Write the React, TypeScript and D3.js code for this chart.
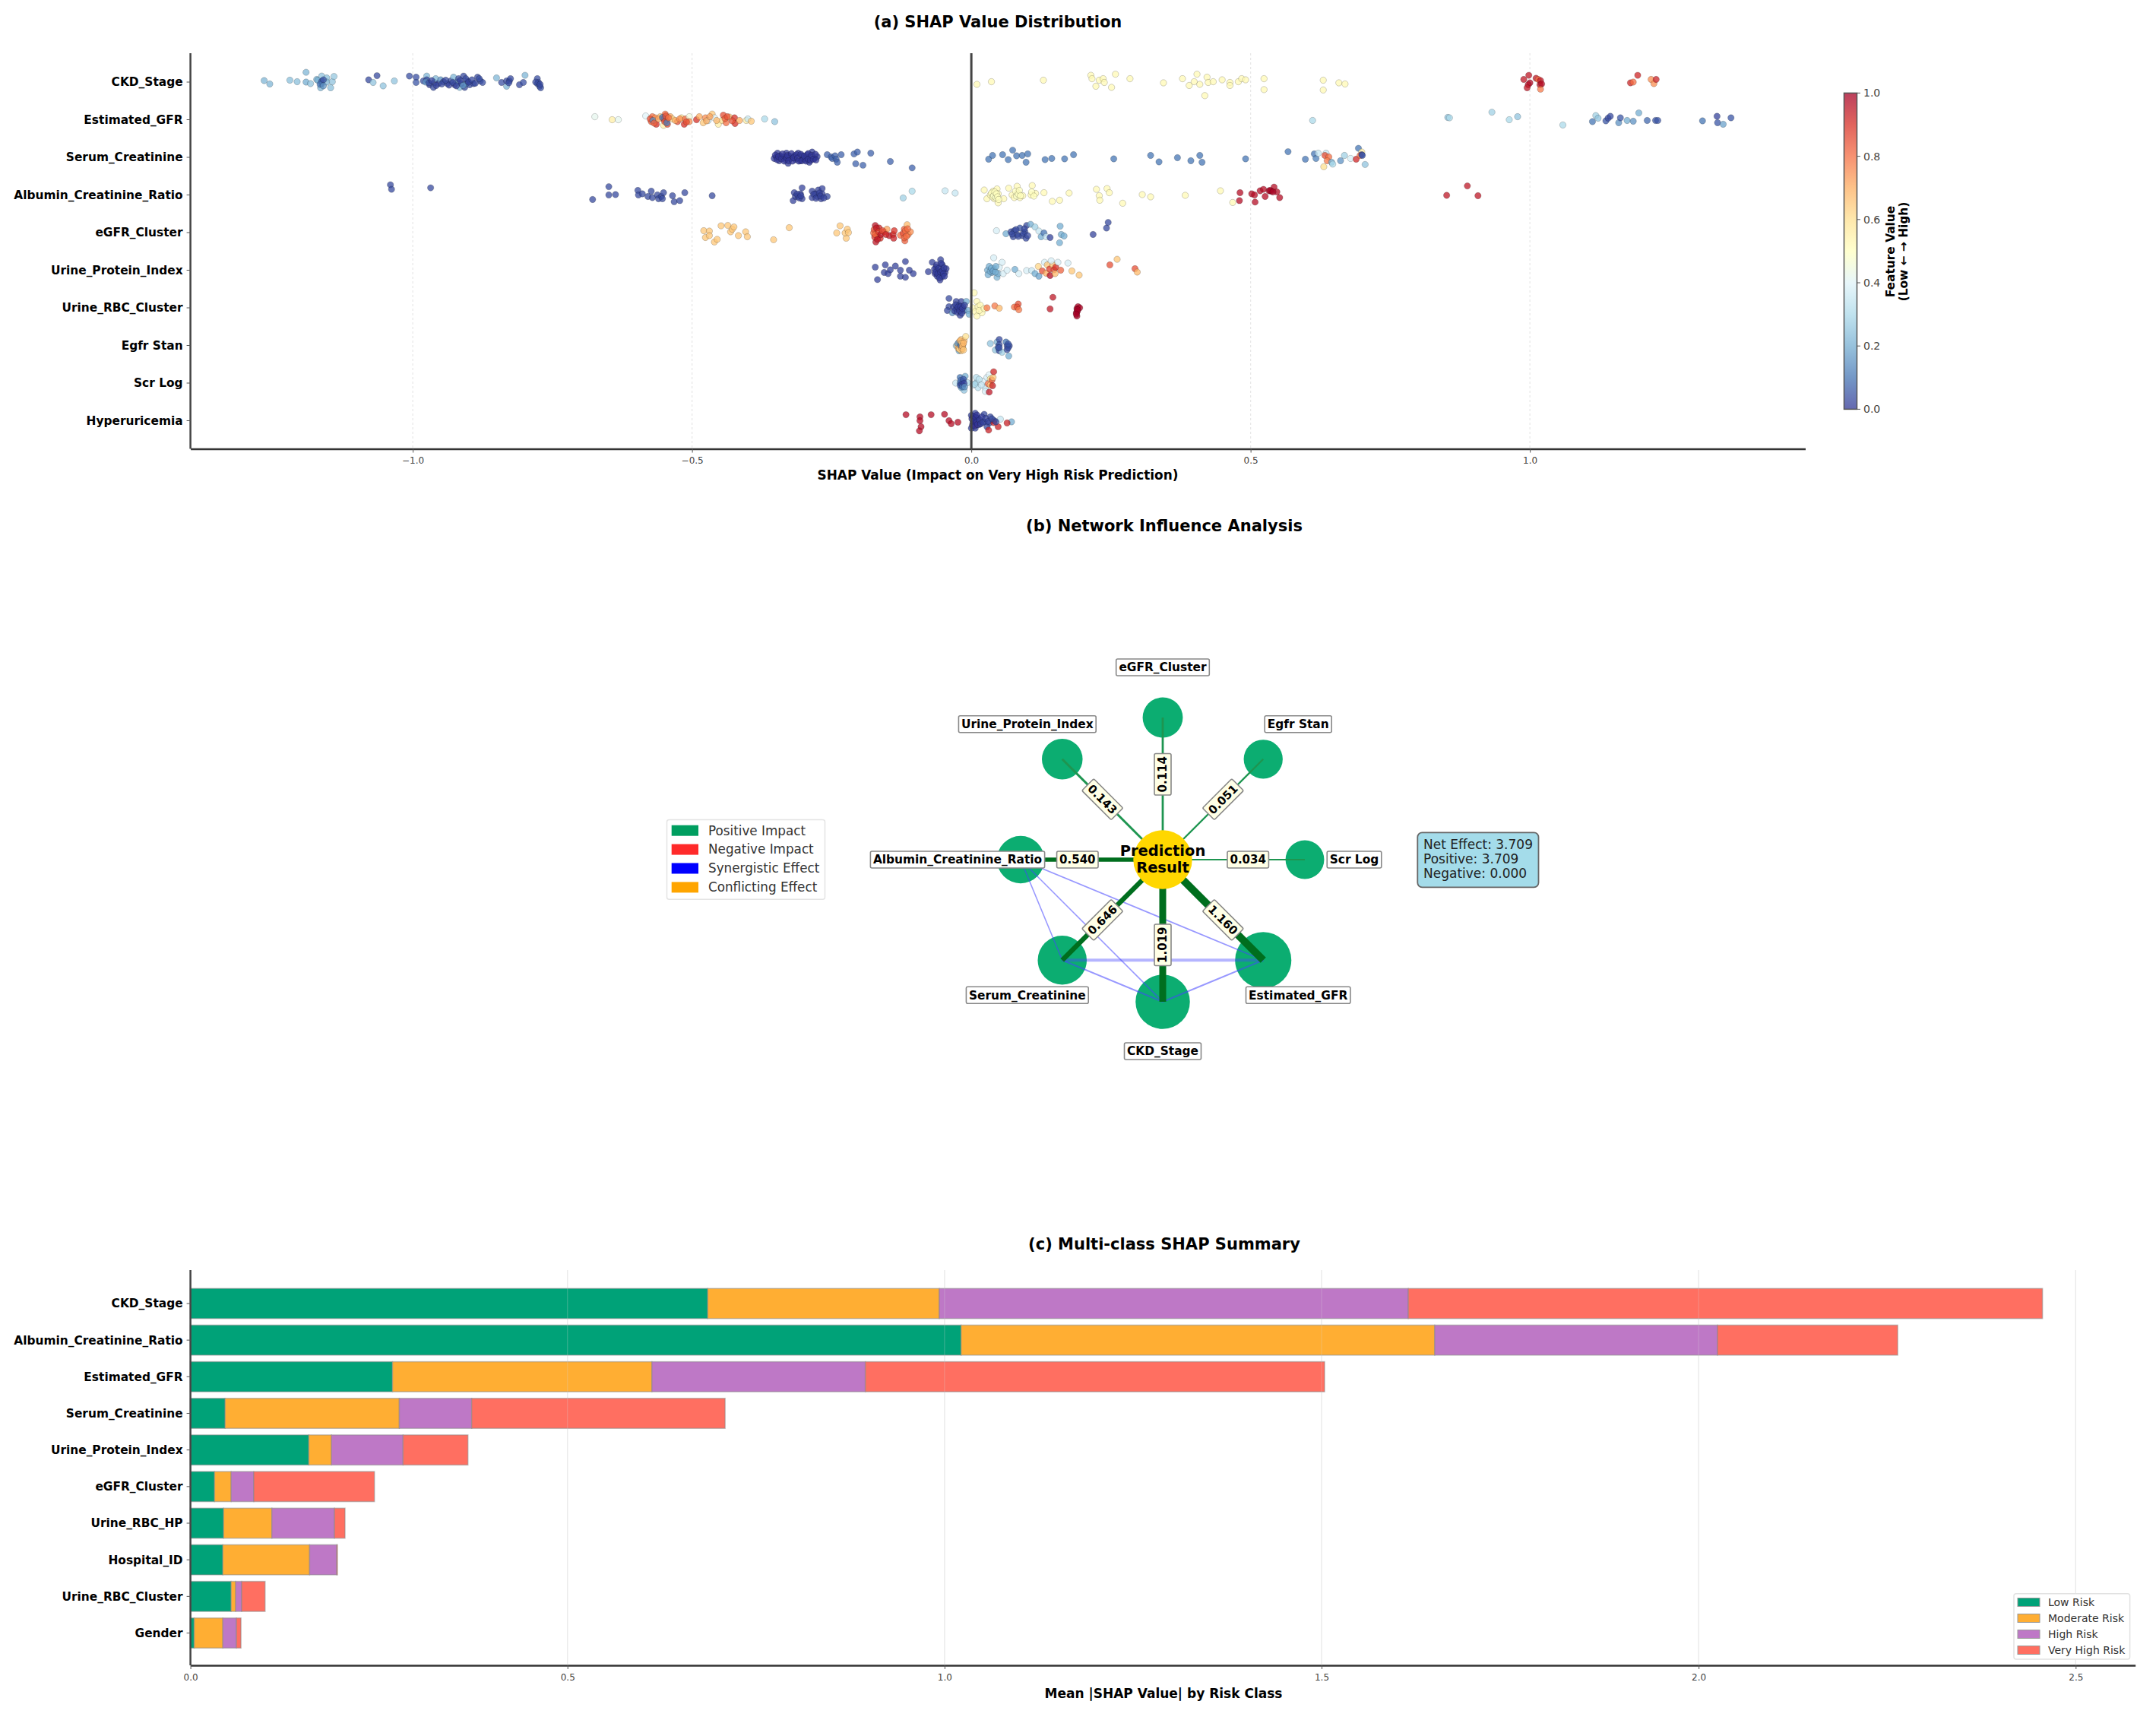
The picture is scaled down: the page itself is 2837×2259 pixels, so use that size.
import React, { useRef, useEffect } from "react";
import * as d3 from "d3";

const width = 2837;
const height = 2259;
const font = "'DejaVu Sans', sans-serif";

type Pt = [number, number, number]; // shap value, row jitter, feature value

// (a) beeswarm, one list per feature
const ckdStage: Pt[] = [
  [-1.266,-.04,.22],[-1.256,.05,.22],[-1.22,-.05,.24],[-1.207,-.01,.24],[-1.191,-.26,.22],[-1.191,0,.2],[-1.183,.04,.25],[-1.172,-.07,.22],[-1.17,-.05,.2],[-1.165,.15,.22],[-1.163,-.16,.25],[-1.163,.04,.08],[-1.163,-.02,.05],[-1.154,-.11,.24],[-1.154,0,.22],[-1.147,.15,.24],[-1.144,-.01,.25],[-1.141,-.15,.26],
  [-1.079,-.06,.03],[-1.064,-.17,.03],[-1.071,.01,.25],[-1.053,.1,.25],[-1.033,-.03,.25],[-1.006,-.16,.04],[-.994,-.13,.04],[-.994,.01,.05],
  [-.981,-.03,.04],[-.975,-.16,.22],[-.975,-.06,.03],[-.97,.07,.02],[-.977,0,.15],[-.963,.14,.03],[-.961,.01,.03],[-.959,-.09,.22],[-.954,.04,.02],[-.95,-.06,.15],[-.945,-.01,.02],[-.938,.04,.03],[-.932,-.03,.03],[-.927,-.13,.22],[-.925,.07,.02],[-.92,0,.15],[-.918,-.09,.03],[-.916,.14,.22],[-.913,.04,.02],[-.909,-.16,.03],[-.907,.14,.03],[-.904,.04,.15],[-.902,-.03,.03],[-.898,.07,.03],[-.891,.04,.03],[-.884,-.13,.03],[-.879,-.03,.03],[-.875,.01,.04],
  [-.85,-.11,.22],[-.841,.01,.04],[-.832,.11,.22],[-.832,-.03,.03],[-.827,-.03,.04],[-.825,-.09,.03],[-.809,.07,.03],[-.802,.01,.04],[-.799,-.18,.22],[-.777,-.09,.04],[-.777,.04,.05],[-.775,.01,.03],[-.773,.11,.03],[-.771,.15,.04],
  [.01,.06,.52],[.036,-.01,.52],[.129,-.05,.52],[.214,-.18,.52],[.216,-.09,.52],[.223,.11,.52],[.229,-.05,.52],[.236,-.09,.52],[.238,.01,.52],[.251,.14,.52],[.258,-.21,.52],[.284,-.09,.52],[.344,.02,.52],[.378,-.09,.52],[.39,.09,.52],[.399,-.01,.52],[.404,-.21,.52],[.409,.06,.52],[.418,.36,.52],[.422,-.13,.52],[.424,.01,.52],[.433,-.01,.52],[.449,-.06,.52],[.463,.01,.52],[.463,.09,.52],[.478,-.01,.52],[.484,-.09,.52],[.491,-.06,.52],[.524,-.09,.52],[.524,.2,.52],[.63,-.05,.52],[.63,.21,.52],[.658,.02,.52],[.669,.05,.52],
  [.989,-.07,.95],[.998,-.18,.95],[1.011,-.1,.95],[1.015,-.07,.8],[1.019,-.04,.95],[1.018,.07,.96],[1.021,.05,.97],[1,.02,.98],[.997,.07,.97],[.995,.15,.95],[1.019,.19,.78],
  [1.18,.02,.92],[1.185,0,.8],[1.193,-.18,.92],[1.217,-.07,.75],[1.222,.04,.75],[1.226,-.07,.93],
];
const ckdStageDense: Pt[] = [
  [-1.166,.06,.1],[-1.16,-.06,.05],[-1.16,.1,.15],[-.971,.02,.03],[-.966,-.04,.02],[-.958,.09,.02],[-.948,.05,.03],[-.941,-.05,.03],[-.935,.08,.02],[-.928,.01,.03],[-.922,.1,.02],[-.915,-.04,.02],[-.91,.09,.15],[-.905,-.09,.03],[-.9,0,.02],[-.894,-.06,.03],[-.888,.03,.03],[-.881,-.09,.04],[-.78,0,.03],[-.772,.06,.03],[-.828,.02,.03],
];
const estimatedGfr: Pt[] = [
  [-.674,-.08,.42],[-.643,0,.55],[-.632,0,.42],[-.583,-.1,.4],
  [-.571,-.08,.8],[-.573,.05,.82],[-.564,.12,.9],[-.566,-.05,.75],[-.557,-.08,.65],[-.551,.15,.55],[-.548,-.15,.8],[-.546,.02,.85],[-.544,.12,.85],[-.551,-.02,.85],[-.539,-.08,.7],[-.535,-.02,.62],[-.526,.05,.85],[-.519,-.05,.6],[-.514,.12,.9],[-.512,-.02,.8],[-.505,-.08,.45],[-.505,.05,.75],
  [-.492,0,.9],[-.487,-.08,.7],[-.48,.08,.65],[-.476,-.05,.75],[-.471,.02,.35],[-.464,-.15,.65],[-.46,-.05,.4],[-.453,.12,.55],[-.446,.02,.6],[-.444,-.12,.85],[-.439,.08,.8],[-.433,-.07,.65],[-.424,-.05,.9],[-.423,.1,.9],[-.415,.02,.7],[-.403,.02,.55],[-.4,-.02,.35],[-.394,.04,.65],[-.37,-.02,.3],[-.352,.05,.25],
  [.611,.02,.3],[.853,-.06,.25],[.856,-.05,.3],[.932,-.2,.28],[.963,0,.3],[.978,-.08,.25],[1.059,.14,.3],[1.112,.05,.1],[1.118,-.11,.28],[1.122,-.04,.25],[1.136,.03,.05],[1.14,-.04,.03],[1.144,-.09,.03],[1.159,.08,.15],[1.162,-.05,.05],[1.174,.02,.2],[1.185,.04,.15],[1.195,-.18,.2],[1.21,.02,.08],[1.225,.02,.05],[1.229,.02,.05],[1.309,.03,.1],[1.335,-.09,.02],[1.336,.08,.05],[1.346,.12,.18],[1.36,-.05,.05],
];
const estimatedGfrDense: Pt[] = [
  [-.575,-.02,.85],[-.57,.02,.15],[-.568,.09,.82],[-.56,-.02,.72],[-.553,-.06,.1],[-.549,.05,.85],[-.547,-.1,.85],[-.545,.08,.12],[-.542,-.05,.8],[-.53,.02,.7],[-.522,-.02,.75],[-.51,.06,.85],[-.474,.03,.7],[-.468,-.08,.72],[-.456,.02,.68],[-.441,-.03,.82],[-.437,-.08,.85],[-.428,.03,.85],
];
const serumCreatinine: Pt[] = [
  [-.353,.03,.01],[-.349,-.01,.01],[-.347,-.11,.01],[-.344,.09,.01],[-.342,-.04,.01],[-.337,-.01,.01],[-.333,.06,.01],[-.331,-.11,.01],[-.328,.16,.01],[-.326,-.04,.01],[-.324,.03,.01],[-.317,-.04,.01],[-.315,.06,.01],[-.31,-.11,.01],[-.306,.09,.01],[-.303,-.04,.01],[-.301,.03,.01],[-.297,.06,.01],[-.294,-.07,.01],[-.29,.13,.01],[-.29,-.01,.01],[-.285,-.14,.01],[-.281,.03,.01],[-.276,-.02,.01],
  [-.258,-.07,.07],[-.251,-.01,.07],[-.249,.03,.07],[-.244,-.04,.07],[-.242,.05,.07],[-.24,.13,.07],[-.233,-.07,.07],[-.21,-.09,.07],[-.204,-.14,.07],[-.18,-.11,.07],[-.207,.17,.07],[-.194,.21,.07],[-.145,.11,.07],[-.106,.28,.07],
  [.031,.05,.1],[.038,-.05,.1],[.056,-.07,.1],[.066,.06,.1],[.074,-.19,.1],[.081,-.04,.1],[.091,-.05,.1],[.098,.13,.1],[.101,-.09,.1],[.132,.06,.1],[.144,.03,.1],[.167,.04,.1],[.183,-.07,.1],[.255,.04,.1],[.321,-.05,.1],[.336,.12,.1],[.369,.01,.1],[.393,.09,.1],[.409,-.05,.1],[.413,.13,.1],[.491,.04,.1],
  [.567,-.15,.1],[.598,.05,.1],[.614,-.09,.1],[.617,.03,.12],[.621,-.11,.35],[.635,-.11,.35],[.633,-.05,.85],[.64,-.01,.8],[.637,.09,.78],[.631,.25,.6],[.645,.13,.2],[.647,.18,.3],[.661,.09,.15],[.668,-.05,.28],[.679,.03,.38],[.689,.05,.92],[.693,-.24,.1],[.699,-.14,.55],[.696,-.05,.8],[.699,-.07,.02],[.7,-.05,.05],[.705,.19,.25],
];
const serumCreatinineDense: Pt[] = [
  [-.351,-.06,0],[-.348,.06,0],[-.345,-.02,0],[-.34,.04,0],[-.338,-.09,0],[-.335,.1,0],[-.331,.01,0],[-.329,-.05,0],[-.327,.09,0],[-.322,-.1,0],[-.32,.1,0],[-.318,.01,0],[-.313,-.07,0],[-.311,.02,0],[-.309,.1,0],[-.305,-.08,0],[-.303,.09,0],[-.299,-.03,0],[-.296,.1,0],[-.292,-.1,0],[-.292,.05,0],[-.288,.08,0],[-.286,-.05,0],[-.283,.05,0],[-.279,-.08,0],[-.278,.07,0],
];
const albuminCreatinineRatio: Pt[] = [
  [-1.04,-.27,.03],[-1.038,-.15,.03],[-.968,-.19,.03],
  [-.678,.12,.03],[-.649,-.22,.03],[-.649,0,.03],[-.637,-.01,.03],[-.597,-.12,.03],[-.596,0,.03],[-.589,-.03,.03],[-.579,.04,.03],[-.573,-.1,.03],[-.571,.07,.03],[-.562,0,.03],[-.56,.1,.03],[-.555,.04,.03],[-.553,.1,.03],[-.551,-.06,.03],[-.535,.02,.03],[-.532,.18,.03],[-.522,.15,.03],[-.513,-.06,.03],[-.464,.02,.03],
  [-.319,.15,.02],[-.317,-.06,.02],[-.315,.04,.02],[-.31,.04,.02],[-.306,-.03,.02],[-.303,-.19,.02],[-.303,.1,.02],[-.285,-.1,.02],[-.285,.07,.02],[-.279,-.03,.02],[-.276,.04,.02],[-.274,-.13,.02],[-.269,.1,.02],[-.267,-.17,.02],[-.267,-.03,.02],[-.258,.04,.03],
  [-.122,.08,.28],[-.106,-.1,.3],[-.047,-.11,.35],[-.029,-.05,.35],
  [.023,-.13,.52],[.028,.1,.52],[.034,0,.52],[.039,-.1,.52],[.041,.1,.52],[.043,0,.52],[.046,-.16,.52],[.048,.21,.52],[.048,-.03,.52],[.058,.1,.52],[.067,-.18,.52],[.073,0,.52],[.077,.07,.52],[.082,-.23,.52],[.083,-.06,.52],[.087,.07,.52],[.092,.02,.52],[.107,0,.52],[.109,-.25,.52],[.115,-.04,.52],[.13,-.06,.52],[.145,.17,.52],[.158,.14,.52],[.175,-.05,.52],[.224,-.15,.52],[.243,-.17,.52],[.229,.02,.52],[.247,-.06,.52],[.23,.14,.52],[.271,.22,.52],[.306,-.01,.52],[.321,.05,.52],[.383,.01,.52],[.446,-.11,.52],[.468,.2,.52],
  [.481,-.06,.97],[.48,.15,.97],[.502,-.03,.97],[.507,0,.97],[.508,.19,.97],[.517,-.11,.97],[.523,-.15,.97],[.526,.04,.97],[.533,-.11,.98],[.537,-.1,.99],[.542,-.21,.97],[.547,-.08,.97],[.552,.07,.97],
  [.851,.01,.95],[.888,-.24,.95],[.907,.02,.95],
];
const albuminCreatinineRatioDense: Pt[] = [
  [-.312,-.02,.02],[-.308,.08,.02],[-.305,.02,.02],[-.282,-.02,.02],[-.278,.09,.02],[-.272,-.05,.02],[-.27,.03,.02],[-.264,.08,.02],
  [.036,-.05,.5],[.038,.05,.5],[.04,.02,.48],[.042,-.08,.5],[.044,.07,.48],[.045,-.03,.5],[.047,.05,.5],[.049,.12,.5],[.079,-.1,.5],[.081,.03,.48],[.084,-.02,.5],[.086,-.12,.5],[.088,.02,.5],[.108,-.08,.5],[.112,.03,.5],[.535,-.12,.99],[.54,-.08,.99],
];
const egfrCluster: Pt[] = [
  [-.479,-.05,.65],[-.476,.13,.65],[-.469,-.04,.65],[-.469,.08,.65],[-.46,.25,.65],[-.455,.18,.65],[-.448,-.18,.65],[-.436,-.19,.65],[-.431,-.02,.65],[-.428,-.09,.65],[-.425,-.15,.65],[-.417,.08,.65],[-.404,-.02,.65],[-.401,.11,.65],[-.354,.19,.65],[-.326,-.13,.65],
  [-.241,.01,.65],[-.235,-.18,.65],[-.224,.15,.65],[-.226,.01,.65],[-.222,-.09,.65],[-.22,0,.65],
  [-.175,.01,.8],[-.172,-.19,.95],[-.171,.25,.95],[-.169,.08,.85],[-.165,-.12,.92],[-.163,.15,.9],[-.156,-.02,.88],[-.151,-.09,.72],[-.147,.08,.95],[-.14,.05,.92],[-.139,.15,.93],[-.138,-.05,.9],[-.127,.07,.8],[-.12,-.09,.82],[-.119,.22,.82],[-.115,-.21,.68],[-.113,.05,.78],[-.109,-.02,.75],
  [.045,-.05,.38],[.062,.03,.2],[.071,-.02,.03],[.075,.11,.03],[.077,-.05,.03],[.082,.05,.03],[.087,-.12,.05],[.091,.08,.03],[.096,-.02,.03],[.098,.15,.03],[.099,-.19,.03],[.106,-.22,.2],[.114,-.15,.28],[.121,-.04,.35],[.125,.11,.2],[.13,.01,.1],[.134,.11,.35],[.141,.13,.02],[.158,.27,.2],[.159,-.17,.2],[.161,.05,.2],[.166,.09,.2],[.218,.05,.02],[.242,-.12,.03],[.245,-.27,.03],
];
const egfrClusterDense: Pt[] = [
  [-.174,-.08,.85],[-.173,.12,.9],[-.172,.05,.8],[-.17,-.12,.95],[-.168,.18,.95],[-.166,-.02,.88],[-.162,.05,.95],[-.159,-.05,.85],[-.153,.05,.92],[-.122,.02,.85],[-.12,.14,.82],[-.118,-.05,.8],[-.116,.1,.8],[-.114,-.1,.8],
  [.073,.04,.03],[.08,-.08,.03],[.084,.1,.03],[.093,.02,.03],[.095,-.1,.03],[.101,.08,.03],
];
const urineProteinIndex: Pt[] = [
  [-.172,-.08,.02],[-.168,.25,.02],[-.156,.06,.02],[-.154,-.14,.02],[-.149,.09,.02],[-.145,-.01,.02],[-.136,-.11,.02],[-.127,0,.02],[-.127,.16,.02],[-.118,-.23,.02],[-.118,.19,.02],[-.111,0,.02],[-.104,.09,.02],
  [-.077,.04,.02],[-.07,-.21,.02],[-.065,.09,.01],[-.063,-.08,.01],[-.061,.16,.01],[-.059,.02,.01],[-.056,.26,.01],[-.055,-.28,.02],[-.052,-.14,.01],[-.052,.16,.01],[-.047,.06,.01],[-.045,-.04,.01],
  [.029,0,.2],[.03,.12,.2],[.032,-.1,.2],[.037,.06,.18],[.041,-.04,.2],[.046,.19,.22],[.048,.09,.2],[.04,-.33,.38],[.05,-.08,.38],[.055,-.21,.38],[.057,.09,.38],[.064,0,.38],
  [.078,-.02,.2],[.085,.09,.38],[.099,.01,.38],[.108,.01,.35],[.114,.09,.2],[.121,.16,.18],[.12,-.1,.62],[.127,.02,.85],[.131,-.21,.38],[.134,.08,.7],[.136,-.14,.65],[.14,-.03,.88],[.141,.14,.97],[.146,-.14,.65],[.148,-.01,.85],[.15,.09,.68],[.151,-.08,.9],[.143,-.25,.38],[.155,-.21,.38],[.16,0,.82],[.173,-.19,.38],[.18,.02,.65],[.193,.13,.65],[.248,-.14,.85],[.261,-.29,.65],[.293,-.04,.85],[.297,.05,.68],
];
const urineProteinIndexDense: Pt[] = [
  [-.066,-.03,.01],[-.064,.05,.01],[-.062,-.14,.01],[-.06,.1,.01],[-.058,-.05,.01],[-.057,.2,.01],[-.055,.05,.01],[-.054,-.18,.01],[-.052,.02,.01],[-.05,.1,.01],[-.049,-.06,.01],[-.048,.16,.01],
  [.034,.03,.2],[.036,-.05,.2],[.039,.02,.18],[.043,.05,.2],[.044,-.1,.2],
];
const urineRbcCluster: Pt[] = [
  [-.04,-.25,.03],[-.04,-.03,.03],[-.043,.07,.03],[-.034,.13,.15],[-.027,-.17,.02],[-.027,.03,.02],[-.022,-.07,.02],[-.02,.2,.02],[-.018,-.17,.02],[-.015,-.03,.02],[-.013,.07,.02],[-.009,-.17,.2],[-.006,.07,.2],[-.004,.17,.2],
  [.005,-.4,.52],[.003,0,.52],[.01,-.17,.52],[.007,.1,.52],[.012,-.03,.52],[.01,.22,.52],[.016,-.07,.52],[.019,.13,.52],[.014,.07,.52],[.023,.02,.52],
  [.028,0,.78],[.042,-.05,.78],[.05,.01,.68],[.077,-.02,.8],[.084,-.1,.85],[.082,-.02,.85],[.085,.05,.78],[.146,-.28,.95],[.141,.03,.95],[.189,.02,.99],[.191,-.03,.99],[.194,0,.99],[.188,.13,.99],[.189,.22,.99],[.19,.09,.99],
];
const urineRbcClusterDense: Pt[] = [
  [-.032,-.02,.02],[-.03,.08,.02],[-.028,-.08,.02],[-.025,.12,.02],[-.024,-.02,.01],[-.021,.08,.01],[-.019,-.03,.01],[-.017,.14,.02],[-.016,.02,.01],[-.012,-.07,.02],[.19,.05,1],[.188,.17,1],
];
const egfrStan: Pt[] = [
  [-.027,.01,.25],[-.025,0,.65],[-.022,-.09,.65],[-.022,.14,.2],[-.02,.04,.7],[-.02,-.06,.1],[-.018,.14,.65],[-.018,-.16,.65],[-.015,-.02,.7],[-.015,.08,.62],[-.013,-.12,.68],[-.01,-.24,.6],
  [.034,-.05,.25],[.043,.12,.25],[.046,-.09,.22],[.05,-.16,.03],[.05,-.02,.03],[.05,.14,.03],[.055,.18,.28],[.062,-.09,.1],[.064,.01,.03],[.068,.01,.03],[.064,.11,.03],[.067,.28,.2],
];
const egfrStanDense: Pt[] = [
  [-.024,-.05,.15],[-.023,.08,.7],[-.021,.1,.62],[-.02,-.12,.68],[-.019,.01,.1],[-.017,.08,.7],[-.017,-.06,.65],[-.016,.02,.68],[-.014,.12,.65],[-.014,-.06,.68],
  [.048,.05,.05],[.05,.06,.05],[.066,.06,.04],[.066,-.04,.05],
];
const scrLog: Pt[] = [
  [-.028,0,.35],[-.02,-.15,.1],[-.02,0,.1],[-.018,.12,.2],[-.015,-.05,.02],[-.015,.05,.1],[-.013,.19,.25],[-.011,-.18,.2],
  [-.007,-.01,.3],[.003,.05,.35],[.009,-.01,.28],[.009,-.15,.32],[.012,.12,.32],[.021,-.05,.38],[.025,.12,.35],[.025,.22,.38],[.028,-.15,.38],[.032,-.22,.4],
  [.03,.02,.8],[.032,.24,.95],[.034,.05,.65],[.034,-.11,.6],[.037,-.08,.85],[.038,.07,.93],[.039,-.15,.65],[.04,-.3,.92],
];
const scrLogDense: Pt[] = [
  [-.02,.06,.05],[-.019,-.07,.08],[-.017,.03,.02],[-.016,.1,.1],[-.014,-.1,.05],[-.013,.01,.02],[-.012,.1,.15],[.006,.03,.3],[.014,-.1,.33],[.018,.05,.35],
];
const hyperuricemia: Pt[] = [
  [-.117,-.16,.97],[-.092,-.1,.97],[-.092,0,.97],[-.09,.16,.97],[-.093,.27,.97],[-.072,-.16,.97],[-.048,-.17,.97],[-.04,0,.97],[-.036,.08,.97],[-.024,.04,.97],
  [.052,-.04,.35],[.072,.03,.2],[.0,-.14,.02],[.003,.06,.01],[.005,-.04,.01],[.007,-.2,.02],[.007,.2,.02],[.012,-.07,.01],[.014,.1,.01],[.0,.2,.02],[.023,-.17,.03],[.023,.03,.03],[.034,-.1,.03],[.032,.06,.03],[.041,0,.03],[.028,.16,.03],
  [.031,.25,.93],[.048,.16,.93],[.007,.1,.93],[.04,.05,.93],[.064,.06,.93],
];
const hyperuricemiaDense: Pt[] = [
  [.001,-.05,0],[.002,.12,0],[.003,-.12,0],[.004,.02,0],[.006,.14,0],[.008,-.08,0],[.009,.04,0],[.01,-.15,0],[.011,.1,0],[.015,-.02,.01],[.017,.08,.01],[.019,-.1,.01],[.021,.04,.02],[.026,-.06,.02],[.03,.02,.02],[.037,-.05,.03],[.044,.03,.03],
];

const swarmFeatures = ["CKD_Stage", "Estimated_GFR", "Serum_Creatinine", "Albumin_Creatinine_Ratio", "eGFR_Cluster", "Urine_Protein_Index", "Urine_RBC_Cluster", "Egfr Stan", "Scr Log", "Hyperuricemia"];
const swarmSeries = [
  [...ckdStage, ...ckdStageDense], [...estimatedGfr, ...estimatedGfrDense], [...serumCreatinine, ...serumCreatinineDense],
  [...albuminCreatinineRatio, ...albuminCreatinineRatioDense], [...egfrCluster, ...egfrClusterDense], [...urineProteinIndex, ...urineProteinIndexDense],
  [...urineRbcCluster, ...urineRbcClusterDense], [...egfrStan, ...egfrStanDense], [...scrLog, ...scrLogDense], [...hyperuricemia, ...hyperuricemiaDense],
];
const swarmTicks = [-1, -0.5, 0, 0.5, 1];
const rdYlBu = ["#313695", "#4575b4", "#74add1", "#abd9e9", "#e0f3f8", "#ffffbf", "#fee090", "#fdae61", "#f46d43", "#d73027", "#a50026"];

// (b) network, clockwise from the top
const netFeatures = ["eGFR_Cluster", "Egfr Stan", "Scr Log", "Estimated_GFR", "CKD_Stage", "Serum_Creatinine", "Albumin_Creatinine_Ratio", "Urine_Protein_Index"];
const netImpact = [0.114, 0.051, 0.034, 1.16, 1.019, 0.646, 0.54, 0.143];
const netLabelDist = [253, 252, 252, 252, 252, 252, 270, 252];
const netLabelAngle = [-90, -45, 0, 45, -90, -45, 0, 45];
const synergyPairs: [number, number, number][] = [[6, 5, 1.6], [6, 4, 1.6], [6, 3, 1.8], [5, 3, 4], [5, 4, 2], [3, 4, 2]];
const netLegend = ["Positive Impact", "Negative Impact", "Synergistic Effect", "Conflicting Effect"];
const netLegendColors = ["#009E60", "#FF2A2A", "#0000FF", "#FFA500"];
const netSummary = ["Net Effect: 3.709", "Positive: 3.709", "Negative: 0.000"];

// (c) stacked bars
const barFeatures = ["CKD_Stage", "Albumin_Creatinine_Ratio", "Estimated_GFR", "Serum_Creatinine", "Urine_Protein_Index", "eGFR_Cluster", "Urine_RBC_HP", "Hospital_ID", "Urine_RBC_Cluster", "Gender"];
const riskClasses = ["Low Risk", "Moderate Risk", "High Risk", "Very High Risk"];
const riskColors = ["#00A278", "#FFAE33", "#BE78C6", "#FF6F61"];
const lowRisk = [0.686, 1.022, 0.268, 0.046, 0.157, 0.032, 0.044, 0.043, 0.054, 0.005];
const moderateRisk = [0.307, 0.628, 0.344, 0.231, 0.03, 0.022, 0.064, 0.115, 0.006, 0.038];
const highRisk = [0.622, 0.375, 0.283, 0.096, 0.095, 0.03, 0.083, 0.036, 0.008, 0.018];
const veryHighRisk = [0.841, 0.239, 0.609, 0.336, 0.086, 0.16, 0.014, 0.001, 0.031, 0.006];
const barTicks = [0, 0.5, 1, 1.5, 2, 2.5];

export default function App() {
  const svgRef = useRef<SVGSVGElement>(null);

  useEffect(() => {
    if (!svgRef.current) return;
    const svg = d3.select(svgRef.current);
    svg.selectAll("*").remove();
    svg.style("font-family", font);

    const label = (g: any, x: number, y: number, s: string, size: number, opts: any = {}) =>
      g.append("text").attr("x", x).attr("y", y).attr("dy", "0.35em")
        .attr("text-anchor", opts.anchor ?? "middle").attr("font-size", size)
        .attr("font-weight", opts.bold ? 700 : 400).attr("fill", opts.fill ?? "#000")
        .attr("transform", opts.rotate ? `rotate(${opts.rotate},${x},${y})` : null).text(s);

    const drawAxes = (x: any, top: number, bottom: number, ticks: number[], fmt: (d: number) => string, dash: string | null) => {
      const g = svg.append("g");
      g.append("g").selectAll("line").data(ticks).join("line")
        .attr("x1", d => x(d)).attr("x2", d => x(d)).attr("y1", top).attr("y2", bottom)
        .attr("stroke", "#ddd").attr("stroke-width", 1.2).attr("stroke-opacity", dash ? 0.7 : 0.5)
        .attr("stroke-dasharray", dash);
      const axis = g.append("g").attr("transform", `translate(0,${bottom})`)
        .call(d3.axisBottom(x).tickValues(ticks).tickFormat(fmt as any).tickSize(5).tickSizeOuter(0).tickPadding(6));
      axis.select(".domain").attr("stroke", "#333").attr("stroke-width", 2.5);
      axis.selectAll(".tick line").attr("stroke", "#555");
      axis.selectAll("text").attr("font-size", 12).attr("fill", "#444").attr("font-family", font);
      return g;
    };

    const drawYAxis = (y: any, left: number, top: number, bottom: number, names: string[], rows: number[]) => {
      const g = svg.append("g");
      g.append("line").attr("x1", left).attr("x2", left).attr("y1", top).attr("y2", bottom).attr("stroke", "#444").attr("stroke-width", 2.5);
      names.forEach((n, i) => {
        g.append("line").attr("x1", left - 5).attr("x2", left).attr("y1", y(rows[i])).attr("y2", y(rows[i])).attr("stroke", "#555");
        label(g, left - 10, y(rows[i]), n, 15.4, { anchor: "end", bold: true });
      });
    };

    // ---- (a) SHAP Value Distribution ----
    const xA = d3.scaleLinear().domain([-1.398, 1.493]).range([250.6, 2375.5]);
    const yA = d3.scaleLinear().domain([0, 9]).range([108, 553.5]);
    const colorStops = d3.range(11).map(i => i / 10);
    const color = d3.scaleLinear<string>().domain(colorStops).range(rdYlBu);

    drawAxes(xA, 70, 590.5, swarmTicks, d => d3.format(".1f")(d).replace("-", "\u2212"), "3,3");
    swarmSeries.forEach((pts, i) => {
      svg.append("g").selectAll("circle").data(pts).join("circle")
        .attr("cx", d => xA(d[0])).attr("cy", d => yA(i + d[1])).attr("r", 4.2)
        .attr("fill", d => color(d[2])).attr("fill-opacity", 0.75)
        .attr("stroke", "#000").attr("stroke-opacity", 0.3).attr("stroke-width", 0.6);
    });
    svg.append("line").attr("x1", xA(0)).attr("x2", xA(0)).attr("y1", 70).attr("y2", 590.5).attr("stroke", "#444").attr("stroke-width", 3);
    drawYAxis(yA, 250.6, 70, 590.5, swarmFeatures, d3.range(10));
    label(svg, 1313, 28.6, "(a) SHAP Value Distribution", 21, { bold: true });
    label(svg, 1313, 625.4, "SHAP Value (Impact on Very High Risk Prediction)", 16.9, { bold: true });

    // colorbar
    const defs = svg.append("defs");
    const grad = defs.append("linearGradient").attr("id", "cbar").attr("x1", 0).attr("x2", 0).attr("y1", 1).attr("y2", 0);
    colorStops.forEach(s => grad.append("stop").attr("offset", s).attr("stop-color", color(s)));
    const cbar = d3.scaleLinear().domain([0, 1]).range([538.4, 122.4]);
    svg.append("rect").attr("x", 2426.5).attr("y", cbar(1)).attr("width", 17).attr("height", cbar(0) - cbar(1))
      .attr("fill", "url(#cbar)").attr("fill-opacity", 0.75).attr("stroke", "#555").attr("stroke-width", 1.5);
    cbar.ticks(5).forEach(t => {
      svg.append("line").attr("x1", 2443.4).attr("x2", 2448).attr("y1", cbar(t)).attr("y2", cbar(t)).attr("stroke", "#555");
      label(svg, 2452, cbar(t), t.toFixed(1), 14, { anchor: "start", fill: "#444" });
    });
    label(svg, 2488, 331, "Feature Value", 15.4, { bold: true, rotate: -90 });
    label(svg, 2504.6, 331, "(Low \u2190 \u2192 High)", 15.4, { bold: true, rotate: -90 });

    // ---- (b) Network Influence Analysis ----
    label(svg, 1532, 692, "(b) Network Influence Analysis", 21, { bold: true });
    const cx = 1530, cy = 1131, netR = 187;
    const angle = d3.scaleLinear().domain([0, 8]).range([0, 2 * Math.PI]);
    const polar = (i: number, r: number) => d3.pointRadial(angle(i), r).map((v, k) => v + (k ? cy : cx));
    const nodeArea = d3.scaleLinear().domain([0, 1.16]).range([625, 1369]);
    const edgeWidth = d3.scaleLinear().domain([0, 1.16]).range([2, 10]);
    const net = svg.append("g");

    netFeatures.forEach((_, i) => {
      const [x, y] = polar(i, netR);
      net.append("circle").attr("cx", x).attr("cy", y).attr("r", Math.sqrt(nodeArea(netImpact[i]))).attr("fill", "#0CAD71");
    });
    synergyPairs.forEach(([a, b, w]) => {
      const [x1, y1] = polar(a, netR), [x2, y2] = polar(b, netR);
      net.append("line").attr("x1", x1).attr("y1", y1).attr("x2", x2).attr("y2", y2)
        .attr("stroke", "#4444FF").attr("stroke-opacity", w > 3 ? 0.4 : 0.55).attr("stroke-width", w);
    });
    netFeatures.forEach((_, i) => {
      const [x, y] = polar(i, netR);
      net.append("line").attr("x1", cx).attr("y1", cy).attr("x2", x).attr("y2", y)
        .attr("stroke", netImpact[i] > 0.3 ? "#006E1E" : "#1E9550").attr("stroke-width", edgeWidth(netImpact[i]));
    });
    net.append("circle").attr("cx", cx).attr("cy", cy).attr("r", 38.7).attr("fill", "#FFD700");
    label(net, cx, cy - 11.5, "Prediction", 19.5, { bold: true });
    label(net, cx, cy + 10, "Result", 19.5, { bold: true });

    const boxLabel = (x: number, y: number, s: string, rot: number, fill: string, size: number) => {
      const g = net.append("g").attr("transform", `translate(${x},${y}) rotate(${rot})`);
      const rect = g.append("rect").attr("fill", fill).attr("stroke", "#888").attr("stroke-width", 1.6).attr("rx", 2);
      const t = label(g, 0, 0, s, size, { bold: true });
      const w = (t.node() as SVGTextElement).getBBox().width + 7;
      rect.attr("x", -w / 2).attr("y", -11).attr("width", w).attr("height", 22);
    };
    netFeatures.forEach((n, i) => {
      const [x, y] = polar(i, netR * 0.6);
      boxLabel(x, y, netImpact[i].toFixed(3), netLabelAngle[i], "#FFFFE6", 15);
    });
    netFeatures.forEach((n, i) => {
      const [x, y] = polar(i, netLabelDist[i]);
      boxLabel(x, y, n, 0, "#fff", 15.4);
    });

    const lg = svg.append("g");
    lg.append("rect").attr("x", 877.5).attr("y", 1078.6).attr("width", 208).attr("height", 104.7).attr("rx", 3)
      .attr("fill", "#fff").attr("stroke", "#e4e4e4").attr("stroke-width", 1.5);
    const legendY = d3.scaleLinear().domain([0, 3]).range([1092.7, 1167.4]);
    netLegend.forEach((n, i) => {
      lg.append("rect").attr("x", 883.7).attr("y", legendY(i) - 7).attr("width", 35.3).attr("height", 14).attr("fill", netLegendColors[i]);
      label(lg, 932, legendY(i), n, 16.8, { anchor: "start", fill: "#333" });
    });

    svg.append("rect").attr("x", 1865.3).attr("y", 1095.3).attr("width", 159.2).attr("height", 72).attr("rx", 6)
      .attr("fill", "#A4DCEA").attr("stroke", "#666").attr("stroke-width", 1.8);
    netSummary.forEach((s, i) => label(svg, 1873, 1111.2 + i * 18.9, s, 17, { anchor: "start", fill: "#222" }));

    // ---- (c) Multi-class SHAP Summary ----
    label(svg, 1532, 1637, "(c) Multi-class SHAP Summary", 21, { bold: true });
    const xC = d3.scaleLinear().domain([0, 2.579]).range([250.6, 2809.7]);
    const yC = d3.scaleBand().domain(barFeatures).range([1715 - 24.1, 2148.5 + 24.1]).paddingInner(0.18).paddingOuter(0.09);
    const rows = barFeatures.map((feature, i) => ({ feature, low: lowRisk[i], moderate: moderateRisk[i], high: highRisk[i], veryHigh: veryHighRisk[i] }));
    const stack = d3.stack<any>().keys(["low", "moderate", "high", "veryHigh"])(rows);

    drawAxes(xC, 1671, 2191, barTicks, d => d3.format(".1f")(d), null);
    svg.append("g").selectAll("g").data(stack).join("g").attr("fill", (_, i) => riskColors[i])
      .selectAll("rect").data(d => d).join("rect")
      .attr("x", d => xC(d[0])).attr("width", d => xC(d[1]) - xC(d[0]))
      .attr("y", d => yC(d.data.feature)!).attr("height", yC.bandwidth())
      .attr("stroke", "#888").attr("stroke-opacity", 0.5).attr("stroke-width", 1.5);
    // gridlines show faintly through the bars
    svg.append("g").selectAll("line").data(barTicks).join("line")
      .attr("x1", d => xC(d)).attr("x2", d => xC(d)).attr("y1", 1671).attr("y2", 2191)
      .attr("stroke", "#ddd").attr("stroke-opacity", 0.25).attr("stroke-width", 1.2);
    const yCenter = d3.scaleOrdinal<string, number>().domain(barFeatures).range(barFeatures.map(f => yC(f)! + yC.bandwidth() / 2));
    drawYAxis((i: number) => yCenter(barFeatures[i]), 250.6, 1671, 2191, barFeatures, d3.range(10));
    label(svg, 1531, 2228, "Mean |SHAP Value| by Risk Class", 17, { bold: true });

    const lc = svg.append("g");
    lc.append("rect").attr("x", 2650).attr("y", 2096.8).attr("width", 152.6).attr("height", 86.2).attr("rx", 3)
      .attr("fill", "#fff").attr("stroke", "#e2e2e2").attr("stroke-width", 1.5);
    const riskY = d3.scaleLinear().domain([0, 3]).range([2108, 2171]);
    riskClasses.forEach((n, i) => {
      lc.append("rect").attr("x", 2655).attr("y", riskY(i) - 5.5).attr("width", 29).attr("height", 11)
        .attr("fill", riskColors[i]).attr("stroke", "#999").attr("stroke-width", 1);
      label(lc, 2695, riskY(i), n, 14, { anchor: "start", fill: "#333" });
    });
  }, []);

  return <svg ref={svgRef} width={width} height={height} style={{ position: "absolute", left: 0, top: 0, background: "#fff" }} />;
}
